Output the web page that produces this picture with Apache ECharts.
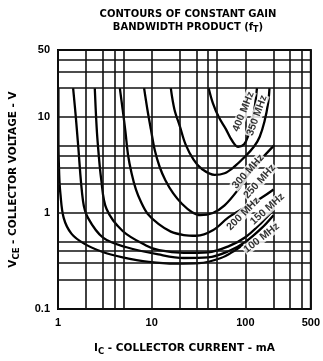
<!DOCTYPE html>
<html><head><meta charset="utf-8">
<script src="https://cdn.jsdelivr.net/npm/echarts@6.0.0/dist/echarts.min.js"></script>
<style>html,body{margin:0;padding:0;background:#fff}#c{width:323px;height:361px}</style>
</head><body><div id="c"></div>
<script>
// Axis grid values (mA and V)
const xGridValues = [1,2,3,4,5,10,20,30,40,50,100,200,300,400,500];
const yGridValues = [0.1,0.2,0.3,0.4,0.5,1,2,3,4,5,10,20,30,40,50];
const xTickLabels = [1,10,100,500];
const yTickLabels = [0.1,1,10,50];

// Contours: [Ic (mA), Vce (V)]
const f100 = [[1.01,20],[1.01,6],[1.03,2.5],[1.06,1.6],[1.15,0.89],[1.39,0.61],[1.9,0.48],[3.05,0.39],[4.9,0.345],[9.3,0.31],[18,0.297],[32,0.3],[55,0.34],[75,0.4],[95,0.47]];
const f150 = [[1.45,20],[1.55,10],[1.63,5.5],[1.85,1.33],[2.09,0.89],[3.05,0.55],[5.4,0.44],[11.8,0.37],[22,0.34],[40,0.345],[66,0.4],[100,0.5],[150,0.7],[200,0.95]];
const f200 = [[2.47,20],[2.55,10],[2.65,5.5],[2.9,2.2],[3.3,1.1],[4.9,0.65],[8.7,0.46],[12,0.41],[22,0.385],[40,0.39],[66,0.45],[100,0.56],[150,0.8],[200,1.08]];
const f250 = [[4.57,20],[4.9,12],[5.25,7],[5.6,4],[6.1,2.6],[6.8,1.75],[7.7,1.3],[9,0.99],[11.8,0.77],[16,0.64],[22,0.59],[30,0.58],[45,0.66],[66,0.9],[100,1.15],[150,1.45],[200,1.76]];
const f300 = [[8.3,20],[9,12],[9.8,7.5],[10.8,4.5],[12.2,3],[14,2.2],[17,1.6],[21,1.25],[27,1.02],[33,0.95],[45,1.0],[60,1.2],[84,1.76],[107,2.5],[150,3.7],[204,5.1]];
const f350 = [[16,20],[17.5,12],[20,8],[23,5.2],[28,3.6],[34,2.9],[47,2.5],[60,2.6],[75,3.0],[100,3.9],[125,5],[142,6.2],[160,9],[175,14],[181,20]];
const f400 = [[40.6,20],[45,14],[52,10],[62,7.5],[72,5.7],[84,4.9],[97,5.2],[108,6.5],[118,9],[127,13.5],[133,20]];

const contourNames = ['100 MHz','150 MHz','200 MHz','250 MHz','300 MHz','350 MHz','400 MHz'];
const contours = [f100,f150,f200,f250,f300,f350,f400];
// label anchor points [Ic, Vce]
const labelAnchors = [[149,0.55],[172,1.1],[95,0.98],[142,2.13],[107,2.7],[133,10.4],[95.4,11.4]];
const labelAngles = [38,42,45,48,48,70,68];

const FONT = '"Liberation Sans", Arial, sans-serif';
const WIDE = '"DejaVu Sans", Verdana, sans-serif';
const chart = echarts.init(document.getElementById('c'), null, {renderer:'canvas'});

const series = contours.map((d,i)=>({
  type:'line', name:contourNames[i], data:d, smooth:0.35, showSymbol:false, silent:true,
  lineStyle:{color:'#000', width:2.3}, z:3
}));
series.push({
  type:'line', data:[], silent:true,
  markLine:{silent:true, symbol:['none','none'], label:{show:false},
    lineStyle:{type:'solid', color:'#111', width:1.6},
    data: xGridValues.map(v=>({xAxis:v})).concat(yGridValues.map(v=>({yAxis:v})))
  }, z:2
});
series.push({
  type:'scatter', silent:true, symbolSize:0, z:5,
  data: labelAnchors.map((p,i)=>({value:p, name:contourNames[i],
    label:{rotate:labelAngles[i]}})),
  label:{show:true, position:'inside', formatter:p=>p.name, color:'#000',
    fontFamily:FONT, fontWeight:'bold', fontSize:10.5, backgroundColor:'#fff', padding:[0,1]}
});

chart.setOption({
  animation:false,
  title:{
    text:'CONTOURS OF CONSTANT GAIN\nBANDWIDTH PRODUCT (f{sub|T})',
    left:183, top:3, textAlign:'center',
    textStyle:{fontFamily:WIDE, fontWeight:'bold', fontSize:10, color:'#000', lineHeight:13,
      rich:{sub:{fontFamily:WIDE, fontWeight:'bold', fontSize:8, verticalAlign:'bottom', padding:[5,0,0,0]}}}
  },
  grid:{left:51, right:10, top:50, bottom:46, show:true, borderColor:'#000', borderWidth:2, backgroundColor:'#fff'},
  xAxis:{
    type:'log', logBase:10, min:1, max:500,
    name:'I{sub|C} - COLLECTOR CURRENT - mA', nameLocation:'middle', nameGap:32,
    nameTextStyle:{fontFamily:WIDE, fontWeight:'bold', fontSize:10.5, color:'#000',
      rich:{sub:{fontFamily:WIDE, fontWeight:'bold', fontSize:8.5, padding:[6,0,0,0]}}},
    axisLine:{show:false}, axisTick:{show:false}, splitLine:{show:false},
    axisLabel:{margin:8, fontFamily:FONT, fontWeight:'bold', fontSize:11, color:'#000',
      showMaxLabel:true, showMinLabel:true,
      formatter:v=>xTickLabels.some(t=>Math.abs(t-v)/t<1e-6)?String(+v.toPrecision(6)):''}
  },
  yAxis:{
    type:'log', logBase:10, min:0.1, max:50,
    name:'V{sub|CE} - COLLECTOR VOLTAGE - V', nameLocation:'middle', nameGap:37, nameRotate:90,
    nameTextStyle:{fontFamily:WIDE, fontWeight:'bold', fontSize:10.5, color:'#000',
      rich:{sub:{fontFamily:WIDE, fontWeight:'bold', fontSize:8.5, padding:[6,0,0,0]}}},
    axisLine:{show:false}, axisTick:{show:false}, splitLine:{show:false},
    axisLabel:{margin:8, fontFamily:FONT, fontWeight:'bold', fontSize:11, color:'#000',
      showMaxLabel:true, showMinLabel:true,
      formatter:v=>yTickLabels.some(t=>Math.abs(t-v)/t<1e-6)?String(+v.toPrecision(6)):''}
  },
  series:series
});
</script>
</body></html>
